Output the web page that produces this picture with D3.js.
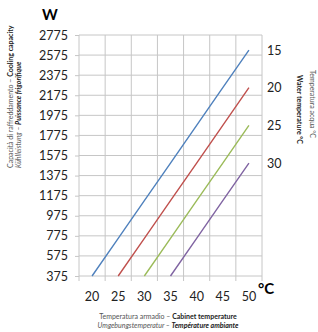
<!DOCTYPE html>
<html>
<head>
<meta charset="utf-8">
<script src="https://cdn.jsdelivr.net/npm/d3@7"></script>
<style>
    body { margin: 0; background: #fff; }
    svg { display: block; font-family: Lato, "Open Sans", sans-serif; }
    .small { font-size: 7px; fill: #555; }
    .small .b { font-weight: bold; fill: #222; }
</style>
</head>
<body>
<svg id="chart" width="318" height="332"></svg>
<script>
// cabinet temperature (°C) on x, cooling capacity (W) on y
let categories = [20, 25, 30, 35, 40, 45, 50];
let yTicks = [375, 575, 775, 975, 1175, 1375, 1575, 1775, 1975, 2175, 2375, 2575, 2775];
let water15 = [375, 750, 1125, 1500, 1875, 2250, 2625];
let water20 = [null, 375, 750, 1125, 1500, 1875, 2250];
let water25 = [null, null, 375, 750, 1125, 1500, 1875];
let water30 = [null, null, null, 375, 750, 1125, 1500];
let waterLabels = ['15', '20', '25', '30'];
let colors = ['#4F81BD', '#C0504D', '#9BBB59', '#8064A2'];

let svg = d3.select('#chart');
let plotLeft = 79, plotRight = 262, plotTop = 35, plotBottom = 276;

let x = d3.scaleBand().domain(categories).range([plotLeft, plotRight]);
let y = d3.scaleLinear().domain([375, 2775]).range([plotBottom, plotTop]);

// horizontal grid + left ticks
svg.append('g')
    .attr('transform', `translate(${plotLeft},0)`)
    .call(d3.axisLeft(y).tickValues(yTicks).tickSize(4).tickFormat(''))
    .call(g => g.select('.domain').remove())
    .call(g => g.selectAll('line').attr('stroke', '#c6c6c6'));
svg.append('g')
    .selectAll('line')
    .data(yTicks)
    .join('line')
    .attr('x1', plotLeft).attr('x2', plotRight)
    .attr('y1', d => y(d)).attr('y2', d => y(d))
    .attr('stroke', '#c6c6c6');

// vertical grid at band edges, with ticks below
let edges = categories.map(c => x(c)).concat([plotRight]);
svg.append('g')
    .selectAll('line')
    .data(edges)
    .join('line')
    .attr('x1', d => d).attr('x2', d => d)
    .attr('y1', plotTop).attr('y2', plotBottom + 5)
    .attr('stroke', '#c6c6c6');

// tick labels
svg.append('g')
    .attr('transform', `translate(${plotLeft - 11},0)`)
    .call(d3.axisLeft(y).tickValues(yTicks).tickSize(0).tickFormat(d3.format('d')))
    .call(g => g.select('.domain').remove())
    .call(g => g.selectAll('text')
        .attr('x', 0)
        .style('font-family', 'Lato, sans-serif')
        .style('font-size', '12.5px')
        .attr('fill', '#222'));

svg.append('g')
    .attr('transform', `translate(0,${plotBottom + 16})`)
    .call(d3.axisBottom(x).tickSize(0))
    .call(g => g.select('.domain').remove())
    .call(g => g.selectAll('text')
        .attr('y', 0)
        .style('font-family', 'Lato, sans-serif')
        .style('font-size', '12.5px')
        .attr('fill', '#222'));

// series lines
let series = [water15, water20, water25, water30];
let line = d3.line()
    .defined(d => d != null)
    .x((d, i) => x(categories[i]) + x.bandwidth() / 2)
    .y(d => y(d));

series.forEach((s, i) => {
    svg.append('path')
        .datum(s)
        .attr('d', line)
        .attr('fill', 'none')
        .attr('stroke', colors[i])
        .attr('stroke-width', 1.4);
    svg.append('text')
        .attr('x', 267)
        .attr('y', y(s[s.length - 1]) + 4.5)
        .style('font-size', '12.5px')
        .attr('fill', '#222')
        .text(waterLabels[i]);
});

// unit labels
svg.append('text')
    .attr('x', 50).attr('y', 20)
    .attr('text-anchor', 'middle')
    .style('font-size', '15px')
    .style('font-weight', 'bold')
    .text('W');
svg.append('text')
    .attr('x', 258).attr('y', 294)
    .style('font-size', '15px')
    .style('font-weight', 'bold')
    .text('°C');

// left axis title
let leftTitle = svg.append('text')
    .attr('class', 'small')
    .attr('transform', 'translate(13,168) rotate(-90)');
leftTitle.append('tspan').text('Capacità di raffreddamento – ');
leftTitle.append('tspan').attr('class', 'b').text('Cooling capacity');
let leftTitle2 = svg.append('text')
    .attr('class', 'small')
    .style('font-style', 'italic')
    .attr('transform', 'translate(21,168) rotate(-90)');
leftTitle2.append('tspan').text('Kühlleistung – ');
leftTitle2.append('tspan').attr('class', 'b').text('Puissance frigorifique');

// right axis title
svg.append('text')
    .attr('class', 'small')
    .attr('transform', 'translate(297,75) rotate(90)')
    .append('tspan').attr('class', 'b')
    .text('Water temperature °C');
svg.append('text')
    .attr('class', 'small')
    .attr('transform', 'translate(310,70) rotate(90)')
    .text('Temperatura acqua °C');

// bottom axis title
let bottomTitle = svg.append('text')
    .attr('class', 'small')
    .attr('x', 168).attr('y', 319)
    .attr('text-anchor', 'middle');
bottomTitle.append('tspan').text('Temperatura armadio – ');
bottomTitle.append('tspan').attr('class', 'b').text('Cabinet temperature');
let bottomTitle2 = svg.append('text')
    .attr('class', 'small')
    .style('font-style', 'italic')
    .attr('x', 168).attr('y', 328)
    .attr('text-anchor', 'middle');
bottomTitle2.append('tspan').text('Umgebungstemperatur – ');
bottomTitle2.append('tspan').attr('class', 'b').text('Température ambiante');
</script>
</body>
</html>
